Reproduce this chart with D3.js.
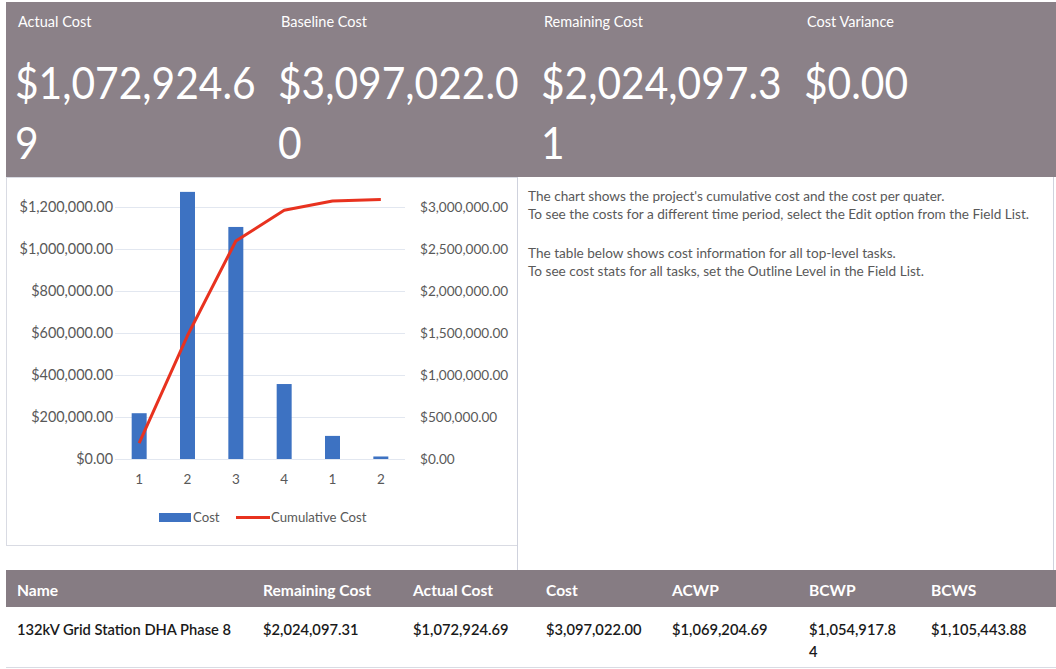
<!DOCTYPE html>
<html><head><meta charset="utf-8">
<script src="https://cdn.jsdelivr.net/npm/d3@7"></script>
<style>
html,body{margin:0;padding:0;background:#fff;}
svg{display:block;}
</style></head>
<body>
<svg id="c" width="1056" height="669"></svg>
<script>
// ---- data ----
const kpiTitles = ["Actual Cost", "Baseline Cost", "Remaining Cost", "Cost Variance"];
const kpiLine1 = ["$1,072,924.6", "$3,097,022.0", "$2,024,097.3", "$0.00"];
const kpiLine2 = ["9", "0", "1", ""];
const quarters = ["1", "2", "3", "4", "1", "2"];
const costValues = [218000, 1272000, 1105000, 357000, 110000, 12000];
const cumulativeValues = [190000, 1470000, 2595000, 2962000, 3072000, 3090000];
const leftTicks = [0, 200000, 400000, 600000, 800000, 1000000, 1200000];
const rightTicks = [0, 500000, 1000000, 1500000, 2000000, 2500000, 3000000];
const infoLines = [
  "The chart shows the project's cumulative cost and the cost per quater.",
  "To see the costs for a different time period, select the Edit option from the Field List.",
  "",
  "The table below shows cost information for all top-level tasks.",
  "To see cost stats for all tasks, set the Outline Level in the Field List."
];
const tableHeaders = ["Name", "Remaining Cost", "Actual Cost", "Cost", "ACWP", "BCWP", "BCWS"];
const tableRow = ["132kV Grid Station DHA Phase 8", "$2,024,097.31", "$1,072,924.69", "$3,097,022.00", "$1,069,204.69", ["$1,054,917.8", "4"], "$1,105,443.88"];

// ---- drawing ----
const svg = d3.select("#c");
const FONT = "Lato, 'Open Sans', sans-serif";
const banner = "#8b8188";
const axisGray = "#595959";

// banner
svg.append("rect").attr("x", 6).attr("y", 2).attr("width", 1050).attr("height", 175).attr("fill", banner);
const kpiX = d3.scalePoint().domain(d3.range(4)).range([18, 807]);
kpiTitles.forEach((t, i) => {
  const g = svg.append("g").attr("transform", `translate(${kpiX(i)},0)`);
  g.append("text").attr("x", 0).attr("y", 27).attr("fill", "#fff").attr("font-family", FONT)
    .attr("font-size", 14.5).text(t);
  const big = g.append("g").attr("transform", "translate(-3,0) scale(0.905,1)");
  big.append("text").attr("x", 0).attr("y", 99).attr("fill", "#fff").attr("font-family", FONT)
    .attr("font-size", 45).text(kpiLine1[i]);
  big.append("text").attr("x", 0).attr("y", 159).attr("fill", "#fff").attr("font-family", FONT)
    .attr("font-size", 45).text(kpiLine2[i]);
});

// panels borders
svg.append("rect").attr("x", 6.5).attr("y", 177.5).attr("width", 511).attr("height", 368)
  .attr("fill", "#fff").attr("stroke", "#d9dbe3");
svg.append("line").attr("x1", 517.5).attr("x2", 517.5).attr("y1", 177).attr("y2", 570).attr("stroke", "#cfd2dd");
svg.append("line").attr("x1", 1053.5).attr("x2", 1053.5).attr("y1", 177).attr("y2", 570).attr("stroke", "#cfd2dd");

// chart
const plot = {l: 115, r: 405, t: 207, b: 459};
const x = d3.scaleBand().domain(d3.range(quarters.length)).range([plot.l, plot.r]).paddingInner(0.69).paddingOuter(0.345);
const xc = i => x(i) + x.bandwidth() / 2;
const yL = d3.scaleLinear().domain([0, 1200000]).range([plot.b, plot.t]);
const yR = d3.scaleLinear().domain([0, 3000000]).range([plot.b, plot.t]);
const fmt = v => "$" + d3.format(",.2f")(v);

// gridlines
svg.append("g").selectAll("line").data(leftTicks).join("line")
  .attr("x1", plot.l).attr("x2", plot.r)
  .attr("y1", d => Math.round(yL(d)) + 0.5).attr("y2", d => Math.round(yL(d)) + 0.5)
  .attr("stroke", "#e2e7f0").attr("stroke-width", 1);

const leftAxis = svg.append("g").attr("transform", `translate(${plot.l - 2},0)`)
  .call(d3.axisLeft(yL).tickValues(leftTicks).tickFormat(fmt).tickSize(0).tickPadding(0));
const rightAxis = svg.append("g").attr("transform", `translate(${plot.r + 15},0)`)
  .call(d3.axisRight(yR).tickValues(rightTicks).tickFormat(fmt).tickSize(0).tickPadding(0));
const bottomAxis = svg.append("g").attr("transform", `translate(0,${plot.b + 14})`)
  .call(d3.axisBottom(x).tickFormat(i => quarters[i]).tickSize(0).tickPadding(0));
[leftAxis, rightAxis, bottomAxis].forEach(a => {
  a.select(".domain").remove();
  a.selectAll("text").attr("fill", axisGray).attr("font-family", FONT).attr("font-size", 13.5);
});
leftAxis.selectAll("text").attr("font-size", 14.4);
rightAxis.selectAll("text").attr("font-size", 13.6);
bottomAxis.selectAll("text").attr("dy", "0.8em");

// bars
svg.append("g").selectAll("rect").data(costValues).join("rect")
  .attr("x", (d, i) => x(i)).attr("width", x.bandwidth())
  .attr("y", d => yL(d)).attr("height", d => yL(0) - yL(d))
  .attr("fill", "#3d72c2");

// cumulative line
const line = d3.line().x((d, i) => xc(i)).y(d => yR(d));
svg.append("path").datum(cumulativeValues).attr("d", line)
  .attr("fill", "none").attr("stroke", "#e8321f").attr("stroke-width", 3).attr("stroke-linejoin", "round");

// legend
const lg = svg.append("g").attr("font-family", FONT).attr("font-size", 13.2).attr("fill", axisGray);
lg.append("rect").attr("x", 159).attr("y", 513).attr("width", 32).attr("height", 9).attr("fill", "#3d72c2");
lg.append("text").attr("x", 193).attr("y", 522).text("Cost");
lg.append("line").attr("x1", 236).attr("x2", 270).attr("y1", 517.5).attr("y2", 517.5).attr("stroke", "#e8321f").attr("stroke-width", 3);
lg.append("text").attr("x", 271).attr("y", 522).text("Cumulative Cost");

// info text
svg.append("g").selectAll("text").data(infoLines).join("text")
  .attr("x", 528).attr("y", (d, i) => 201 + i * 18 + (i >= 3 ? 3 : 0))
  .attr("font-family", FONT).attr("font-size", 13.6).attr("fill", axisGray).text(d => d);

// table
svg.append("rect").attr("x", 6).attr("y", 570).attr("width", 1050).attr("height", 37).attr("fill", "#867c83");
const colX = [17, 263, 413, 546, 672, 809, 931];
svg.append("g").selectAll("text").data(tableHeaders).join("text")
  .attr("x", (d, i) => colX[i]).attr("y", 596)
  .attr("font-family", FONT).attr("font-weight", "bold").attr("font-size", 15.6).attr("fill", "#fff").text(d => d);
const rowG = svg.append("g").attr("font-family", FONT).attr("font-size", 14.7).attr("font-weight", 600).attr("fill", "#1a1a1a");
tableRow.forEach((v, i) => {
  const lines = Array.isArray(v) ? v : [v];
  lines.forEach((s, j) => rowG.append("text").attr("x", colX[i]).attr("y", 635 + j * 22).text(s));
});
svg.append("line").attr("x1", 6).attr("x2", 1056).attr("y1", 667.5).attr("y2", 667.5).attr("stroke", "#d9dbe3");
</script>
</body></html>
